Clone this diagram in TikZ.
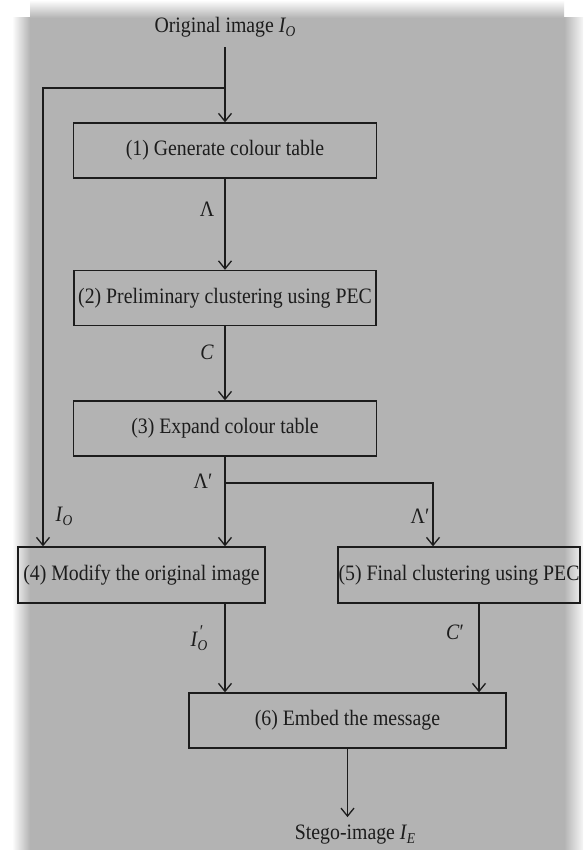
\documentclass[tikz,border=0pt]{standalone}
\usepackage{fontspec}
\setmainfont{Liberation Serif}[FakeStretch=0.9]
\usetikzlibrary{arrows.meta}
\definecolor{bg}{HTML}{B3B3B3}
\definecolor{ink}{HTML}{1C1C1C}
\newcommand\symsub[2]{\textit{#1}\kern-0.5pt\raisebox{-4pt}{\fontsize{15}{15}\selectfont\textit{#2}}}
\newcommand\symsubp[2]{\textit{#1}\kern-0.5pt\raisebox{-4pt}{\fontsize{15}{15}\selectfont\textit{#2}}\llap{\raisebox{9pt}{\fontsize{18}{18}\selectfont ′\kern4pt}}}
\begin{document}
\begin{tikzpicture}[x=1pt,y=-1pt,
  box/.style={draw=ink, line width=1.3pt, minimum height=55pt, inner sep=0pt, text=ink, font=\fontsize{22}{26}\selectfont},
  lbl/.style={text=ink, inner sep=0pt, font=\fontsize{22}{26}\selectfont},
  arr/.style={draw=ink, line width=1.3pt, -{Straight Barb[length=8pt,width=13pt,line width=1.3pt]}},
  ln/.style={draw=ink, line width=1.3pt}]
\useasboundingbox (0,0) rectangle (583,850);
% background
\fill[white] (0,0) rectangle (583,850);
\fill[bg] (30,18) rectangle (564,850);
\shade[left color=white, right color=bg] (12,18) rectangle (30,850);
\shade[top color=white, bottom color=bg] (30,0) rectangle (564,18);
\shade[left color=bg, right color=white!88!bg] (564,18) rectangle (583,850);
% nodes
\node[lbl, inner ysep=10pt] (src) at (225,27) {Original image \symsub{I}{O}};
\node[box, minimum width=303pt] (b1) at (225,150.5) {(1) Generate colour table};
\node[box, minimum width=302pt] (b2) at (225,298) {(2) Preliminary clustering using PEC};
\node[box, minimum width=303pt] (b3) at (225,428.5) {(3) Expand colour table};
\node[box, minimum width=247pt, minimum height=56pt] (b4) at (141.5,575) {(4) Modify the original image};
\node[box, minimum width=242pt, minimum height=56pt] (b5) at (459,575) {(5) Final clustering using PEC};
\node[box, minimum width=317pt] (b6) at (347.5,720.5) {(6) Embed the message};
\node[lbl, inner ysep=8pt] (out) at (355,835) {Stego-image \symsub{I}{E}};
% coordinates
\coordinate (j1) at (225,88);
\coordinate (j1l) at (43,88);
\coordinate (j2) at (225,483);
\coordinate (j2r) at (433,483);
\coordinate (c5) at (479,650);
% connectors
\draw[arr] (src.south -| b1.north) -- (b1.north);
\draw[arr] (j1) -- (j1l) -- (j1l |- b4.north);
\draw[arr] (b1.south) -- (b2.north);
\draw[arr] (b2.south) -- (b3.north);
\draw[arr] (b3.south) -- (b3.south |- b4.north);
\draw[arr] (j2) -- (j2r) -- (j2r |- b5.north);
\draw[arr] (b4.south -| b3.south) -- (b6.north -| b3.south);
\draw[arr] (b5.south -| c5) -- (b6.north -| c5);
\draw[arr] (b6.south) -- (b6.south |- out.north);
% labels
\node[lbl] (lA) at (207,209) {Λ};
\node[lbl] (lC) at (207,352) {\textit{C}};
\node[lbl] (lA2) at (203,481) {Λ′};
\node[lbl] (lI) at (64,516) {\symsub{I}{O}};
\node[lbl] (lA3) at (420,516) {Λ′};
\node[lbl] (lIp) at (199,638) {\symsubp{I}{O}};
\node[lbl] (lCp) at (455,632) {\textit{C}′};
\end{tikzpicture}
\end{document}
